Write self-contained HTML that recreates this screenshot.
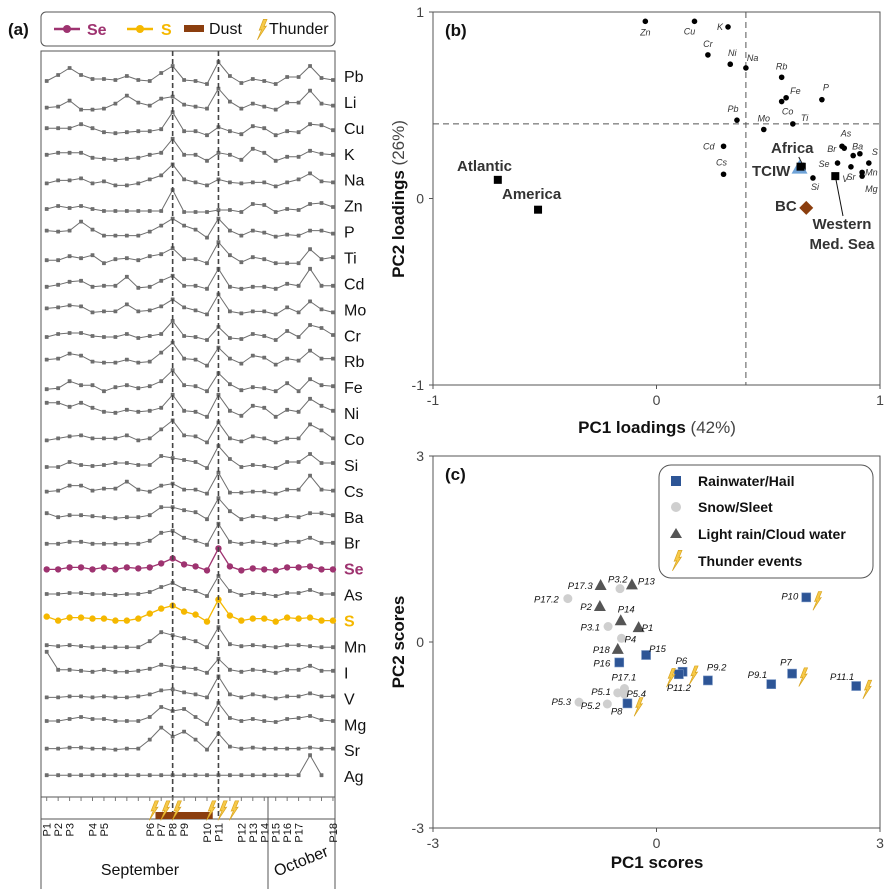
<!DOCTYPE html>
<html><head><meta charset="utf-8"><style>
html,body{margin:0;padding:0;background:#fff;}
svg{display:block;font-family:"Liberation Sans",Arial,sans-serif;}
</style></head><body>
<svg id="s" width="895" height="889" viewBox="0 0 895 889" xmlns="http://www.w3.org/2000/svg"></svg>
<script>
// ===== Panel (a) data =====
const elements = ["Pb","Li","Cu","K","Na","Zn","P","Ti","Cd","Mo","Cr","Rb","Fe","Ni","Co","Si","Cs","Ba","Br","Se","As","S","Mn","I","V","Mg","Sr","Ag"];
const sampleTicks = ["P1","P2","P3","","P4","P5","","","","P6","P7","P8","P9","","P10","P11","","P12","P13","P14","P15","P16","P17","","","P18"];
const thunderIdx = [9,10,11,14,15,16];
const dustStart = 9.5, dustEnd = 14.5;
const seriesPb=[3,9,16,9,5,5,4,8,4,3,11,18,4,3,0,22,8,1,5,3,0,7,7,18,6,4];
const seriesLi=[2,3,9,0,0,1,6,14,7,4,11,13,5,3,1,21,8,1,6,3,0,7,7,19,6,4];
const seriesCu=[7,7,7,11,7,3,2,3,4,4,6,23,4,4,0,8,4,1,9,7,0,4,3,11,10,5];
const seriesK=[6,8,8,8,3,2,1,2,3,6,8,22,6,6,0,8,6,1,12,8,0,4,4,10,7,6];
const seriesNa=[3,6,6,8,3,5,1,1,3,7,11,22,7,4,1,7,4,3,4,4,0,4,7,13,5,4];
const seriesZn=[3,6,4,6,3,1,1,1,1,1,1,22,0,0,0,2,2,0,8,7,0,3,2,8,9,5];
const seriesP=[7,6,7,16,8,2,2,2,2,6,12,19,12,8,0,19,7,2,7,5,1,3,2,7,7,4];
const seriesTi=[3,3,7,5,8,0,4,5,3,7,9,15,4,4,0,21,8,1,6,4,0,0,0,14,4,6];
const seriesCd=[2,4,7,8,2,3,3,12,1,2,8,13,3,3,0,20,2,0,2,2,0,5,3,20,3,3];
const seriesMo=[6,7,9,8,2,3,3,10,3,4,8,15,7,4,0,20,3,1,3,3,0,7,2,13,5,2];
const seriesCr=[3,6,7,7,4,3,3,6,2,4,6,19,4,3,0,13,2,1,6,4,0,9,3,15,12,5];
const seriesRb=[6,7,12,10,4,3,3,6,3,4,13,23,7,6,0,18,7,2,10,8,1,7,5,15,7,7];
const seriesFe=[2,3,10,6,6,0,4,6,3,5,10,21,6,5,0,18,7,1,4,3,0,8,0,12,6,5];
const seriesNi=[14,14,10,14,9,5,4,7,5,6,9,22,6,5,0,22,6,1,11,9,0,7,5,18,11,6];
const seriesCo=[2,4,6,7,4,4,4,7,2,4,13,22,7,6,0,20,4,1,6,4,0,4,4,18,12,4];
const seriesSi=[1,1,6,3,2,3,5,5,3,3,12,10,8,6,0,22,9,1,3,2,0,6,6,14,5,5];
const seriesCs=[2,3,8,8,3,5,5,12,4,2,8,10,4,4,0,21,1,1,2,2,0,4,4,18,4,3];
const seriesBa=[6,2,4,4,3,2,1,2,2,4,12,12,9,7,0,21,8,0,3,2,0,3,2,6,6,4];
const seriesBr=[1,1,3,3,1,1,1,1,1,4,12,14,7,4,0,21,3,1,3,2,0,3,3,7,2,2];
const seriesSe=[1,1,3,3,1,3,1,3,2,3,7,12,6,4,0,22,4,0,2,1,0,3,3,4,1,1];
const seriesAs=[2,2,3,3,2,2,1,2,2,4,9,13,7,5,0,20,5,1,3,2,0,3,3,6,2,2];
const seriesS=[5,1,4,4,3,3,1,1,3,8,13,16,10,7,0,22,6,1,3,3,0,4,3,4,1,1];
const seriesMn=[2,1,2,1,0,0,0,0,0,6,15,12,9,6,0,20,3,1,2,1,0,2,2,1,0,0];
const seriesI=[21,3,3,2,1,3,1,1,2,4,8,6,5,4,0,14,3,1,3,2,0,3,3,7,2,2];
const seriesV=[1,1,2,2,1,2,1,1,2,4,8,9,6,4,1,22,4,1,4,2,0,2,2,5,2,2];
const seriesMg=[3,3,5,7,5,5,3,3,3,7,17,13,15,7,0,21,6,3,5,3,2,5,6,8,4,3];
const seriesSr=[1,1,2,2,1,1,0,1,1,10,22,13,18,10,0,16,3,1,2,1,1,1,1,2,1,1];
const seriesAg=[0,0,0,0,0,0,0,0,0,0,0,0,0,0,0,0,0,0,0,0,0,0,0,20,0,null];
const allSeries=[seriesPb,seriesLi,seriesCu,seriesK,seriesNa,seriesZn,seriesP,seriesTi,seriesCd,seriesMo,seriesCr,seriesRb,seriesFe,seriesNi,seriesCo,seriesSi,seriesCs,seriesBa,seriesBr,seriesSe,seriesAs,seriesS,seriesMn,seriesI,seriesV,seriesMg,seriesSr,seriesAg];

// ===== Panel (b) data =====
const loadNames=["Zn","Cu","K","Cr","Ni","Na","Rb","Fe","Co","P","Pb","Mo","Ti","Cd","Cs","As","Br","Ba","","S","Se","Sr","Mn","Mg","Si","V"];
const loadPC1=[-0.05,0.17,0.32,0.23,0.33,0.40,0.56,0.58,0.56,0.74,0.36,0.48,0.61,0.30,0.30,0.83,0.84,0.88,0.91,0.95,0.81,0.87,0.92,0.92,0.70,0.80];
const loadPC2=[0.95,0.95,0.92,0.77,0.72,0.70,0.65,0.54,0.52,0.53,0.42,0.37,0.40,0.28,0.13,0.28,0.27,0.23,0.24,0.19,0.19,0.17,0.14,0.12,0.11,0.12];
const srcNames=["Atlantic","America","Africa","TCIW","Western Med. Sea","BC"];
const srcPC1=[-0.71,-0.53,0.65,0.64,0.80,0.67];
const srcPC2=[0.10,-0.06,0.17,0.16,0.12,-0.05];
const srcShape=["sq","sq","sq","tri","sq","dia"];

// ===== Panel (c) data =====
const scoreNames=["P17.3","P3.2","P13","P17.2","P2","P14","P3.1","P1","P4","P18","P16","P15","P6","P11.2","P9.2","P9.1","P7","P11.1","P10","P17.1","P5.1","P5.4","P5.3","P5.2","P8"];
const scorePC1=[-0.75,-0.49,-0.33,-1.19,-0.76,-0.48,-0.65,-0.24,-0.47,-0.52,-0.50,-0.14,0.35,0.30,0.69,1.54,1.82,2.68,2.01,-0.43,-0.52,-0.43,-1.04,-0.66,-0.39];
const scorePC2=[0.92,0.86,0.93,0.70,0.58,0.35,0.25,0.24,0.06,-0.11,-0.33,-0.21,-0.48,-0.52,-0.62,-0.68,-0.51,-0.71,0.72,-0.75,-0.82,-0.84,-0.97,-1.00,-0.99];
const scoreType=["tri","circ","tri","circ","tri","tri","circ","tri","circ","tri","sq","sq","sq","sq","sq","sq","sq","sq","sq","circ","circ","circ","circ","circ","sq"];
const thunderSamples=["P10","P7","P11.1","P8","P6","P11.2"];

const NS="http://www.w3.org/2000/svg";
const svg=document.getElementById('s');
function mk(tag,attrs,parent){const e=document.createElementNS(NS,tag);for(const k in attrs)e.setAttribute(k,attrs[k]);(parent||svg).appendChild(e);return e;}
function txt(str,attrs,parent){const e=mk('text',attrs,parent);e.textContent=str;return e;}
function bolt(x,y,s,parent){return mk('path',{d:`M${x+2*s},${y-8*s} L${x+5*s},${y-8*s} L${x+2.5*s},${y-2*s} L${x+4.5*s},${y-2.5*s} L${x-3*s},${y+9*s} L${x+0.5*s},${y+0.5*s} L${x-1.5*s},${y+1*s} Z`,fill:'#f7c948',stroke:'#d9a520','stroke-width':0.7},parent);}

// ===== Panel (a) =====
const gA=mk('g',{});


const ax={l:41,r:335,t:51,b:797};
function xA(i){return 46.7+i*11.45;}
function yBase(k){return 84+k*25.6;}
function yLabel(k){return 76+k*25.93;}
const lbA=txt('(a)',{x:8,y:35,'font-size':17,'font-weight':'bold',fill:'#111'},gA);


const legA=mk('g',{},gA);


mk('rect',{x:41,y:12,width:294,height:34,rx:5,fill:'#fff',stroke:'#555','stroke-width':1},legA);
mk('line',{x1:54,y1:29,x2:80,y2:29,stroke:'#9e3370','stroke-width':2.5},legA);
mk('circle',{cx:67,cy:29,r:4,fill:'#9e3370'},legA);
txt('Se',{x:87,y:35,'font-size':16,'font-weight':'bold',fill:'#9e3370'},legA);
mk('line',{x1:127,y1:29,x2:153,y2:29,stroke:'#f5b800','stroke-width':2.5},legA);
mk('circle',{cx:140,cy:29,r:4,fill:'#f5b800'},legA);
txt('S',{x:161,y:35,'font-size':16,'font-weight':'bold',fill:'#f5b800'},legA);
mk('rect',{x:184,y:25,width:20,height:7,fill:'#8b3e0e'},legA);
txt('Dust',{x:209,y:34,'font-size':16,fill:'#111'},legA);
bolt(261,29,1.2,legA);
txt('Thunder',{x:269,y:34,'font-size':16,fill:'#111'},legA);
const frA=mk('rect',{x:ax.l,y:ax.t,width:ax.r-ax.l,height:ax.b-ax.t,fill:'none',stroke:'#555','stroke-width':1},gA);


allSeries.forEach((vals,k)=>{
  const el=elements[k];
  const color=el==='Se'?'#9e3370':(el==='S'?'#f5b800':'#6e6e6e');
  const r=(el==='Se'||el==='S')?3.2:1.9;
  const g=mk('g',{},gA);
  
  
  const pts=[];
  vals.forEach((v,i)=>{if(v!==null)pts.push([xA(i),yBase(k)-v]);});
  mk('polyline',{points:pts.map(p=>p.join(',')).join(' '),fill:'none',stroke:color,'stroke-width':(r>2?1.3:1)},g);
  pts.forEach(p=>{mk('rect',{x:p[0]-r,y:p[1]-r,width:2*r,height:2*r,rx:(r>2?r:0.4),fill:color},g);});
  const lb=txt(el,{x:344,y:yLabel(k)+6,'font-size':16,fill:(r>2?color:'#111'),'font-weight':(r>2?'bold':'normal')},gA);
  
  
});
[11,15].forEach(i=>{
  const l=mk('line',{x1:xA(i),y1:ax.t,x2:xA(i),y2:ax.b+22,stroke:'#444','stroke-width':1.6,'stroke-dasharray':'5,3'},gA);
  
  
});
mk('line',{x1:ax.l,y1:819,x2:ax.r,y2:819,stroke:'#555','stroke-width':1},gA);
mk('line',{x1:ax.l,y1:797,x2:ax.l,y2:889,stroke:'#555','stroke-width':1},gA);
mk('line',{x1:ax.r,y1:797,x2:ax.r,y2:889,stroke:'#555','stroke-width':1},gA);
mk('line',{x1:268,y1:797,x2:268,y2:889,stroke:'#555','stroke-width':1},gA);
for(let i=0;i<26;i++){mk('line',{x1:xA(i),y1:797,x2:xA(i),y2:801,stroke:'#777','stroke-width':1},gA);}
const dust=mk('rect',{x:xA(dustStart),y:812,width:xA(dustEnd)-xA(dustStart),height:7,fill:'#8b3e0e'},gA);


thunderIdx.forEach(i=>{const b=bolt(xA(i)+3,810,1.15,gA);
  
  });
sampleTicks.forEach((t,i)=>{if(!t)return;
  const e=txt(t,{x:0,y:0,'font-size':11,fill:'#111','text-anchor':'end',transform:`translate(${xA(i)+4},823) rotate(-90)`},gA);
  
  });
const sep=txt('September',{x:140,y:875,'font-size':16,fill:'#111','text-anchor':'middle'},gA);


const oct=txt('October',{x:0,y:0,'font-size':16,fill:'#111','text-anchor':'middle',transform:'translate(303,866) rotate(-22)'},gA);



// ===== Panel (b) =====
const gB=mk('g',{});


const bx={l:433,r:880,t:12,b:385};
function xB(v){return bx.l+(v+1)/2*(bx.r-bx.l);}
function yB(v){return bx.b-(v+1)/2*(bx.b-bx.t);}
mk('rect',{x:bx.l,y:bx.t,width:bx.r-bx.l,height:bx.b-bx.t,fill:'none',stroke:'#555','stroke-width':1},gB);
mk('line',{x1:xB(0.4),y1:bx.t,x2:xB(0.4),y2:bx.b,stroke:'#555','stroke-width':1,'stroke-dasharray':'6,4'},gB);
mk('line',{x1:bx.l,y1:yB(0.4),x2:bx.r,y2:yB(0.4),stroke:'#555','stroke-width':1,'stroke-dasharray':'6,4'},gB);
[-1,0,1].forEach(v=>{
  mk('line',{x1:xB(v),y1:bx.b,x2:xB(v),y2:bx.b+4,stroke:'#555'},gB);
  mk('line',{x1:bx.l-4,y1:yB(v),x2:bx.l,y2:yB(v),stroke:'#555'},gB);
  const a=txt(String(v),{x:xB(v),y:bx.b+20,'font-size':14,fill:'#444','text-anchor':'middle'},gB);
  
  
  const b=txt(String(v),{x:bx.l-9,y:yB(v)+5,'font-size':14,fill:'#444','text-anchor':'end'},gB);
  
  
});
const xtB=mk('text',{x:657,y:433,'font-size':17,fill:'#111','text-anchor':'middle'},gB);
xtB.innerHTML='<tspan font-weight="bold">PC1 loadings</tspan> <tspan fill="#444">(42%)</tspan>';


const ytB=mk('text',{x:0,y:0,'font-size':17,fill:'#111','text-anchor':'middle',transform:'translate(404,199) rotate(-90)'},gB);
ytB.innerHTML='<tspan font-weight="bold">PC2 loadings</tspan> <tspan fill="#444">(26%)</tspan>';


const lbB=txt('(b)',{x:445,y:36,'font-size':17,'font-weight':'bold',fill:'#111'},gB);


const loadOff={Zn:[0,14,'middle'],Cu:[-5,13,'middle'],K:[-5,3,'end'],Cr:[0,-8,'middle'],Ni:[2,-8,'middle'],Na:[1,-7,'start'],Rb:[0,-8,'middle'],Fe:[4,-4,'start'],Co:[6,13,'middle'],P:[4,-9,'middle'],Pb:[-4,-8,'middle'],Mo:[0,-8,'middle'],Ti:[8,-3,'start'],Cd:[-9,3,'end'],Cs:[-2,-9,'middle'],As:[4,-10,'middle'],Br:[-8,4,'end'],Ba:[-1,-6,'start'],S:[3,-8,'start'],Se:[-8,4,'end'],Sr:[0,13,'middle'],Mn:[3,3,'start'],Mg:[3,16,'start'],Si:[2,12,'middle'],V:[7,6,'start']};
loadNames.forEach((n,i)=>{
  const c=mk('circle',{cx:xB(loadPC1[i]),cy:yB(loadPC2[i]),r:2.8,fill:'#000'},gB);
  
  
  if(n){const o=loadOff[n]||[5,4,'start'];
    const t=txt(n,{x:xB(loadPC1[i])+o[0],y:yB(loadPC2[i])+o[1],'font-size':9,'font-style':'italic',fill:'#333','text-anchor':o[2]},gB);
    
    }
});
mk('line',{x1:xB(srcPC1[2]),y1:yB(srcPC2[2])-4,x2:xB(srcPC1[2])-3,y2:157,stroke:'#111','stroke-width':1},gB);
mk('line',{x1:xB(srcPC1[4]),y1:yB(srcPC2[4]),x2:843,y2:216,stroke:'#111','stroke-width':1},gB);
srcNames.forEach((n,i)=>{
  const x=xB(srcPC1[i]),y=yB(srcPC2[i]);let m;
  if(srcShape[i]==='sq')m=mk('rect',{x:x-4,y:y-4,width:8,height:8,fill:'#000'},gB);
  else if(srcShape[i]==='tri')m=mk('polygon',{points:`${x},${y-9} ${x-8},${y+5} ${x+8},${y+5}`,fill:'#6fa3d8'},gB);
  else m=mk('polygon',{points:`${x},${y-7} ${x+7},${y} ${x},${y+7} ${x-7},${y}`,fill:'#8b3e0e'},gB);
  
  
  if(i==3){mk('rect',{x:x-3,y:y-6,width:8,height:8,fill:'#000'},gB);}
});
const srcLab=[['Atlantic',457,171,'start'],['America',502,199,'start'],['Africa',771,153,'start'],['TCIW',752,176,'start'],['BC',775,211,'start'],['Western',842,229,'middle'],['Med. Sea',842,249,'middle']];
srcLab.forEach(s=>{const t=txt(s[0],{x:s[1],y:s[2],'font-size':15,'font-weight':'bold',fill:'#333','text-anchor':s[3]},gB);
  
  });

// ===== Panel (c) =====
const gC=mk('g',{});


const cx={l:433,r:880,t:456,b:828};
function xC(v){return cx.l+(v+3)/6*(cx.r-cx.l);}
function yC(v){return cx.b-(v+3)/6*(cx.b-cx.t);}
mk('rect',{x:cx.l,y:cx.t,width:cx.r-cx.l,height:cx.b-cx.t,fill:'none',stroke:'#555','stroke-width':1},gC);
[-3,0,3].forEach(v=>{
  mk('line',{x1:xC(v),y1:cx.b,x2:xC(v),y2:cx.b+4,stroke:'#555'},gC);
  mk('line',{x1:cx.l-4,y1:yC(v),x2:cx.l,y2:yC(v),stroke:'#555'},gC);
  const a=txt(String(v),{x:xC(v),y:cx.b+20,'font-size':14,fill:'#444','text-anchor':'middle'},gC);
  
  
  const b=txt(String(v),{x:cx.l-9,y:yC(v)+5,'font-size':14,fill:'#444','text-anchor':'end'},gC);
  
  
});
const xtC=txt('PC1 scores',{x:657,y:868,'font-size':17,'font-weight':'bold',fill:'#111','text-anchor':'middle'},gC);


const ytC=txt('PC2 scores',{x:0,y:0,'font-size':17,'font-weight':'bold',fill:'#111','text-anchor':'middle',transform:'translate(404,642) rotate(-90)'},gC);


const lbC=txt('(c)',{x:445,y:480,'font-size':17,'font-weight':'bold',fill:'#111'},gC);


const legC=mk('g',{},gC);


mk('rect',{x:659,y:465,width:214,height:113,rx:12,fill:'#fff',stroke:'#555','stroke-width':1},legC);
mk('rect',{x:671,y:476,width:10,height:10,fill:'#2d5596'},legC);
mk('circle',{cx:676,cy:507,r:5,fill:'#cfcfcf'},legC);
mk('polygon',{points:'676,528 670,538 682,538',fill:'#555'},legC);
bolt(676,560,1.2,legC);
[['Rainwater/Hail',486],['Snow/Sleet',512],['Light rain/Cloud water',539],['Thunder events',566]].forEach(e=>{
  const t=txt(e[0],{x:698,y:e[1],'font-size':14,'font-weight':'bold',fill:'#111'},legC);
  
  });
const scoreOff={"P17.3":[-8,4,'end'],"P3.2":[-12,-6,'start'],"P13":[6,0,'start'],"P17.2":[-9,4,'end'],"P2":[-8,4,'end'],"P14":[-3,-8,'start'],"P3.1":[-8,4,'end'],"P1":[3,4,'start'],"P4":[3,4,'start'],"P18":[-8,4,'end'],"P16":[-9,4,'end'],"P15":[3,-3,'start'],"P6":[-7,-8,'start'],"P11.2":[-12,17,'start'],"P9.2":[-1,-10,'start'],"P9.1":[-4,-6,'end'],"P7":[-12,-8,'start'],"P11.1":[-2,-6,'end'],"P10":[-8,2,'end'],"P17.1":[-13,-8,'start'],"P5.1":[-7,2,'end'],"P5.4":[2,3,'start'],"P5.3":[-8,3,'end'],"P5.2":[-7,5,'end'],"P8":[-5,11,'end']};
scoreNames.forEach((n,i)=>{
  const x=xC(scorePC1[i]),y=yC(scorePC2[i]);let m;
  if(scoreType[i]==='sq')m=mk('rect',{x:x-4.5,y:y-4.5,width:9,height:9,fill:'#2d5596',stroke:'#6f8fc0','stroke-width':0.6},gC);
  else if(scoreType[i]==='circ')m=mk('circle',{cx:x,cy:y,r:4.5,fill:'#cfcfcf'},gC);
  else m=mk('polygon',{points:`${x},${y-6} ${x-6},${y+5} ${x+6},${y+5}`,fill:'#555'},gC);
  
  
  if(thunderSamples.includes(n)){const b=bolt(n==='P11.2'?x-9:x+10,y+3,1.1,gC);
    
    }
  const o=scoreOff[n];
  const t=txt(n,{x:x+o[0],y:y+o[1],'font-size':9.5,'font-style':'italic',fill:'#111','text-anchor':o[2]},gC);
  
  
});
</script>
</body></html>
